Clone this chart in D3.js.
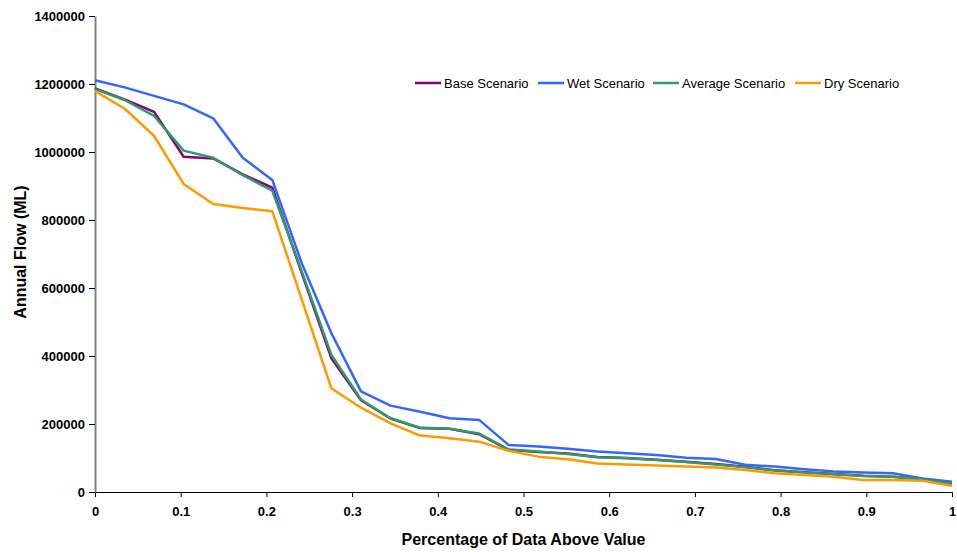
<!DOCTYPE html>
<html lang="en">
<head>
  <meta charset="UTF-8">
  <title>Annual Flow exceedance</title>
  <style>
    body { margin: 0; background: #fff; }
    svg { font-family: "Liberation Sans", Arial, sans-serif; }
  </style>
</head>
<body>
  <script src="https://d3js.org/d3.v7.min.js"></script>
  <script>
    // 30 points, evenly spaced from 0 to 1
    const xData = d3.range(30).map(i => i / 29);
    const baseData = [1187000, 1155000, 1118000, 986000, 981000, 934000, 895000, 643000, 393000, 270000,
      216000, 188000, 186000, 170000, 124000, 118000, 113000, 103000, 100000, 95000,
      89000, 82000, 74000, 64000, 58000, 53000, 48000, 45000, 38000, 25000];
    const wetData = [1211000, 1190000, 1165000, 1140000, 1099000, 983000, 918000, 672000, 467000, 296000,
      254000, 236000, 217000, 212000, 138000, 134000, 127000, 119000, 114000, 109000,
      101000, 97000, 80000, 75000, 67000, 60000, 57000, 55000, 40000, 30000];
    const avgData = [1185000, 1153000, 1106000, 1004000, 983000, 932000, 886000, 648000, 403000, 272000,
      217000, 189000, 186000, 172000, 125000, 119000, 112000, 102000, 99000, 94000,
      88000, 81000, 73000, 63000, 57000, 52000, 47000, 45000, 37000, 24000];
    const dryData = [1179000, 1128000, 1047000, 906000, 847000, 835000, 826000, 565000, 305000, 248000,
      202000, 166000, 158000, 148000, 121000, 104000, 96000, 84000, 81000, 78000,
      75000, 72000, 65000, 55000, 50000, 45000, 35000, 35000, 33000, 18000];
    const seriesNames = ['Base Scenario', 'Wet Scenario', 'Average Scenario', 'Dry Scenario'];
    const colors = ['#800080', '#3366FF', '#339966', '#FF9900'];
    const xTicks = [0, 0.1, 0.2, 0.3, 0.4, 0.5, 0.6, 0.7, 0.8, 0.9, 1];
    const yTicks = [0, 200000, 400000, 600000, 800000, 1000000, 1200000, 1400000];

    const width = 957, height = 552;
    const margin = { top: 16, right: 5, bottom: 60, left: 95 };

    let svg = d3.select('body').append('svg')
      .attr('width', width)
      .attr('height', height);

    let xScale = d3.scaleLinear().domain([0, 1]).range([margin.left, width - margin.right]);
    let yScale = d3.scaleLinear().domain([0, 1400000]).range([height - margin.bottom, margin.top]);

    // axes
    let xAxis = d3.axisBottom(xScale).tickValues(xTicks).tickSize(5).tickSizeOuter(0)
      .tickFormat(d => d3.format('')(d));
    let yAxis = d3.axisLeft(yScale).tickValues(yTicks).tickSize(6).tickSizeOuter(0)
      .tickFormat(d => d);

    svg.append('g').classed('xAxis', true)
      .attr('transform', `translate(0,${height - margin.bottom})`)
      .call(xAxis)
      .call(g => g.select('.domain').attr('stroke', '#000'))
      .call(g => g.selectAll('.tick line').attr('stroke', '#000'))
      .call(g => g.selectAll('.tick text').attr('y', 15)
        .attr('font-size', 13).attr('font-weight', 'bold').attr('fill', '#000')
        .attr('font-family', '"Liberation Sans", Arial, sans-serif'));

    svg.append('g').classed('yAxis', true)
      .attr('transform', `translate(${margin.left},0)`)
      .call(yAxis)
      .call(g => g.select('.domain').attr('stroke', '#808080').attr('stroke-width', 2))
      .call(g => g.selectAll('.tick line').attr('stroke', '#000'))
      .call(g => g.selectAll('.tick text').attr('x', -10)
        .attr('font-size', 13).attr('font-weight', 'bold').attr('fill', '#000')
        .attr('font-family', '"Liberation Sans", Arial, sans-serif'));

    // axis titles
    svg.append('text')
      .attr('x', (margin.left + width - margin.right) / 2)
      .attr('y', 545)
      .attr('text-anchor', 'middle')
      .attr('font-size', 16).attr('font-weight', 'bold')
      .text('Percentage of Data Above Value');
    svg.append('text')
      .attr('transform', `translate(26,252) rotate(-90)`)
      .attr('text-anchor', 'middle')
      .attr('font-size', 16).attr('font-weight', 'bold')
      .text('Annual Flow (ML)');

    // lines
    const allData = [baseData, wetData, avgData, dryData];
    let line = d3.line().x((d, i) => xScale(xData[i])).y(d => yScale(d));
    svg.append('g').classed('lines', true)
      .selectAll('path').data(allData).join('path')
      .attr('d', line)
      .attr('fill', 'none')
      .attr('stroke', (d, i) => colors[i])
      .attr('stroke-width', 2.5)
      .attr('stroke-linejoin', 'round');

    // legend
    const legendX = [415, 538, 653, 795];
    let legend = svg.append('g').classed('legend', true).attr('transform', 'translate(0,83)');
    let items = legend.selectAll('g').data(seriesNames).join('g')
      .attr('transform', (d, i) => `translate(${legendX[i]},0)`);
    items.append('line')
      .attr('x1', 0).attr('x2', 26).attr('y1', 0).attr('y2', 0)
      .attr('stroke', (d, i) => colors[i])
      .attr('stroke-width', 2.5);
    items.append('text')
      .attr('x', 29).attr('dy', '0.35em')
      .attr('font-size', 13)
      .text(d => d);
  </script>
</body>
</html>
